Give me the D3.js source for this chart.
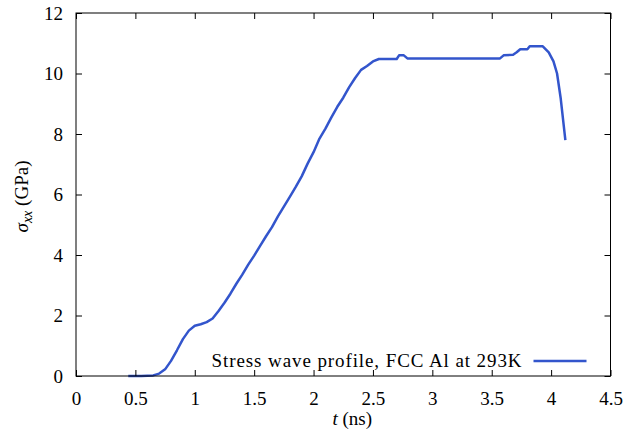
<!DOCTYPE html>
<html>
<head>
<meta charset="utf-8">
<script src="https://cdn.jsdelivr.net/npm/d3@7"></script>
<style>
body { margin: 0; background: #fff; }
</style>
</head>
<body>
<div id="chart-area"></div>
<script>
// stress profile
var times = [0.44, 0.55, 0.65, 0.70, 0.75, 0.80, 0.85, 0.90, 0.95, 1.00, 1.05, 1.10, 1.15, 1.20,
	1.25, 1.30, 1.35, 1.40, 1.45, 1.50, 1.55, 1.60, 1.65, 1.70, 1.75, 1.80, 1.85, 1.90, 1.95,
	2.00, 2.05, 2.10, 2.15, 2.20, 2.25, 2.30, 2.35, 2.40, 2.45, 2.50, 2.55, 2.70, 2.72, 2.76,
	2.79, 3.57, 3.60, 3.68, 3.71, 3.74, 3.80, 3.82, 3.93, 3.98, 4.02, 4.05, 4.08, 4.12];
var stress = [0, 0, 0.02, 0.08, 0.22, 0.50, 0.85, 1.22, 1.50, 1.66, 1.71, 1.78, 1.90, 2.15,
	2.42, 2.72, 3.05, 3.35, 3.68, 3.98, 4.30, 4.62, 4.92, 5.28, 5.60, 5.92, 6.25, 6.60, 7.02,
	7.40, 7.85, 8.18, 8.55, 8.90, 9.20, 9.55, 9.85, 10.12, 10.25, 10.40, 10.48, 10.48, 10.60, 10.60,
	10.50, 10.50, 10.60, 10.62, 10.70, 10.80, 10.80, 10.90, 10.90, 10.70, 10.40, 10.00, 9.20, 7.80];
var xTicks = [0, 0.5, 1, 1.5, 2, 2.5, 3, 3.5, 4, 4.5];
var yTicks = [0, 2, 4, 6, 8, 10, 12];
var seriesName = 'Stress wave profile, FCC Al at 293K';

var margin = { left: 76, right: 13.5, top: 13, bottom: 64 };
var width = 624 - margin.left - margin.right;
var height = 440 - margin.top - margin.bottom;
var fontFam = '"Liberation Serif"';
var fontSize = 19;
var tickLen = 6;
var lineColor = '#3355cc';

var svg = d3.select('#chart-area')
	.append('svg')
	.attr('width', 624)
	.attr('height', 440)
	.style('font-family', fontFam);

var g = svg.append('g')
	.attr('transform', `translate(${margin.left}, ${margin.top})`);

var x = d3.scaleLinear().domain([0, 4.5]).range([0, width]);
var y = d3.scaleLinear().domain([0, 12]).range([height, 0]);

var data = times.map((t, i) => ({ t: t, s: stress[i] }));

var line = d3.line()
	.x(d => x(d.t))
	.y(d => y(d.s));

g.append('path')
	.datum(data)
	.attr('fill', 'none')
	.attr('stroke', lineColor)
	.attr('stroke-width', 2.5)
	.attr('stroke-linejoin', 'round')
	.attr('d', line);

// axes, ticks pointing inward on all four sides
function styleAxis(sel) {
	sel.attr('font-family', fontFam).attr('font-size', fontSize);
	sel.select('.domain').remove();
	sel.selectAll('.tick line').attr('stroke', '#000');
	sel.selectAll('.tick text').attr('fill', '#000');
}

g.append('g')
	.attr('transform', `translate(0, ${height})`)
	.call(d3.axisBottom(x).tickValues(xTicks).tickSizeInner(-tickLen).tickPadding(tickLen + 10)
		.tickFormat(d3.format('')))
	.call(styleAxis);

g.append('g')
	.call(d3.axisTop(x).tickValues(xTicks).tickSizeInner(-tickLen).tickFormat(''))
	.call(styleAxis);

g.append('g')
	.call(d3.axisLeft(y).tickValues(yTicks).tickSizeInner(-tickLen).tickPadding(tickLen + 7)
		.tickFormat(d3.format('')))
	.call(styleAxis);

g.append('g')
	.attr('transform', `translate(${width}, 0)`)
	.call(d3.axisRight(y).tickValues(yTicks).tickSizeInner(-tickLen).tickFormat(''))
	.call(styleAxis);

g.append('rect')
	.attr('width', width)
	.attr('height', height)
	.attr('fill', 'none')
	.attr('stroke', '#000')
	.attr('stroke-width', 1);

// axis labels
var xLabel = g.append('text')
	.attr('x', width / 2 + 9)
	.attr('y', height + 49)
	.attr('text-anchor', 'middle')
	.attr('font-size', fontSize);
xLabel.append('tspan').attr('font-style', 'italic').text('t');
xLabel.append('tspan').text(' (ns)');

var yLabel = g.append('text')
	.attr('transform', `translate(${-76 + 28}, ${height / 2 + 2}) rotate(-90)`)
	.attr('text-anchor', 'middle')
	.attr('font-size', fontSize);
yLabel.append('tspan').attr('font-style', 'italic').text('σ');
yLabel.append('tspan').attr('font-style', 'italic').attr('font-size', 14)
	.attr('dy', 4).text('xx');
yLabel.append('tspan').attr('dy', -4).text(' (GPa)');

// legend inside bottom right
var legend = g.append('g')
	.attr('transform', `translate(${width - 24}, ${height - 15})`);

legend.append('line')
	.attr('x1', -53)
	.attr('x2', 0)
	.attr('stroke', lineColor)
	.attr('stroke-width', 2.5);

legend.append('text')
	.attr('x', -65)
	.attr('y', 6)
	.attr('text-anchor', 'end')
	.attr('font-size', fontSize)
	.attr('textLength', 310)
	.attr('lengthAdjust', 'spacing')
	.text(seriesName);
</script>
</body>
</html>
